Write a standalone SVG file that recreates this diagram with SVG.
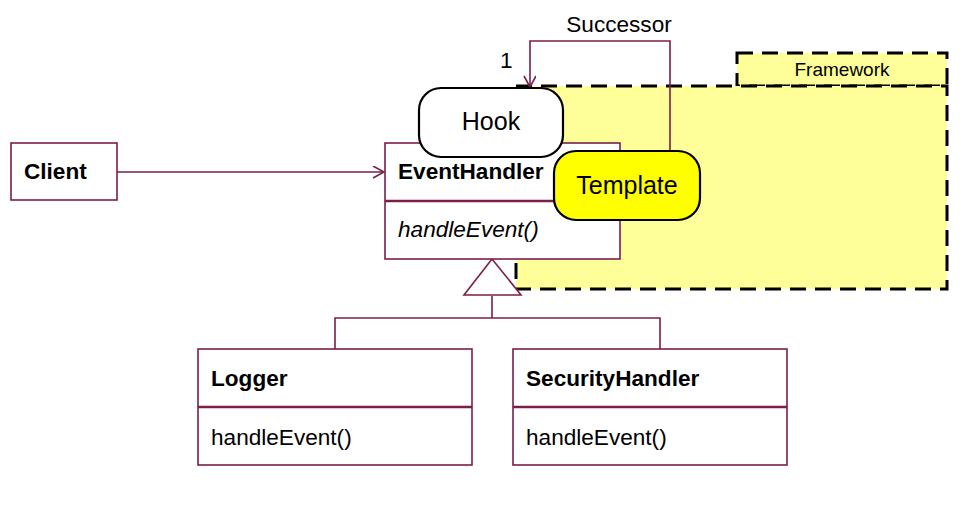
<svg xmlns="http://www.w3.org/2000/svg" width="967" height="507" viewBox="0 0 967 507">
<style>
.cls{fill:#fff;stroke:#7B1F4A;stroke-width:1.6}
.div{stroke:#7B1F4A;stroke-width:2.6}
.con{fill:none;stroke:#7B1F4A;stroke-width:1.6}
.pkg{fill:#FFFF99;stroke:#000;stroke-width:3;stroke-dasharray:16 9}
.t{font-family:"Liberation Sans",Arial,sans-serif;font-size:22.6px;fill:#000}
.b{font-weight:bold}
.big{font-size:25px}
.note{stroke:#000;stroke-width:2.2}
</style>
<defs>
<marker id="open" markerWidth="14" markerHeight="14" refX="12" refY="6" orient="auto" markerUnits="userSpaceOnUse">
<path d="M1,0 L12,6 L1,12" fill="none" stroke="#7B1F4A" stroke-width="1.6"/>
</marker>
</defs>
<g id="framework">
<rect class="pkg" x="737" y="53" width="210" height="33"/>
<rect class="pkg" x="516" y="86" width="431" height="203"/>
<text class="t" x="842" y="76" text-anchor="middle" style="font-size:19px">Framework</text>
</g>
<g id="connectors">
<line class="con" x1="117" y1="172" x2="384" y2="172" marker-end="url(#open)"/>
<polyline class="con" points="670,151 670,41 530,41 530,87" marker-end="url(#open)"/>
<polyline class="con" points="492,296 492,318"/>
<polyline class="con" points="335,349 335,318 660,318 660,349"/>
<polygon points="492,259 464,295 521,295" fill="#fff" stroke="#7B1F4A" stroke-width="1.6"/>
<text class="t" x="619" y="32" text-anchor="middle">Successor</text>
<text class="t" x="500" y="68">1</text>
</g>
<g id="client">
<rect class="cls" x="11" y="143" width="106" height="57"/>
<text class="t b" x="24" y="179">Client</text>
</g>
<g id="eventhandler">
<rect class="cls" x="385" y="143" width="235" height="116"/>
<line class="div" x1="385" y1="201" x2="620" y2="201"/>
<text class="t b" x="398" y="179">EventHandler</text>
<text class="t" x="398" y="237" font-style="italic">handleEvent()</text>
</g>
<g id="hook">
<rect class="note" x="419" y="88" width="144" height="69" rx="22" fill="#fff"/>
<text class="t big" x="491" y="130" text-anchor="middle">Hook</text>
</g>
<g id="template">
<rect class="note" x="554" y="151" width="146" height="69" rx="22" fill="#FFFF00"/>
<text class="t big" x="627" y="194" text-anchor="middle">Template</text>
</g>
<g id="logger">
<rect class="cls" x="198" y="349" width="274" height="116"/>
<line class="div" x1="198" y1="407" x2="472" y2="407"/>
<text class="t b" x="211" y="386">Logger</text>
<text class="t" x="211" y="445">handleEvent()</text>
</g>
<g id="securityhandler">
<rect class="cls" x="513" y="349" width="274" height="116"/>
<line class="div" x1="513" y1="407" x2="787" y2="407"/>
<text class="t b" x="526" y="386">SecurityHandler</text>
<text class="t" x="526" y="445">handleEvent()</text>
</g>
</svg>
